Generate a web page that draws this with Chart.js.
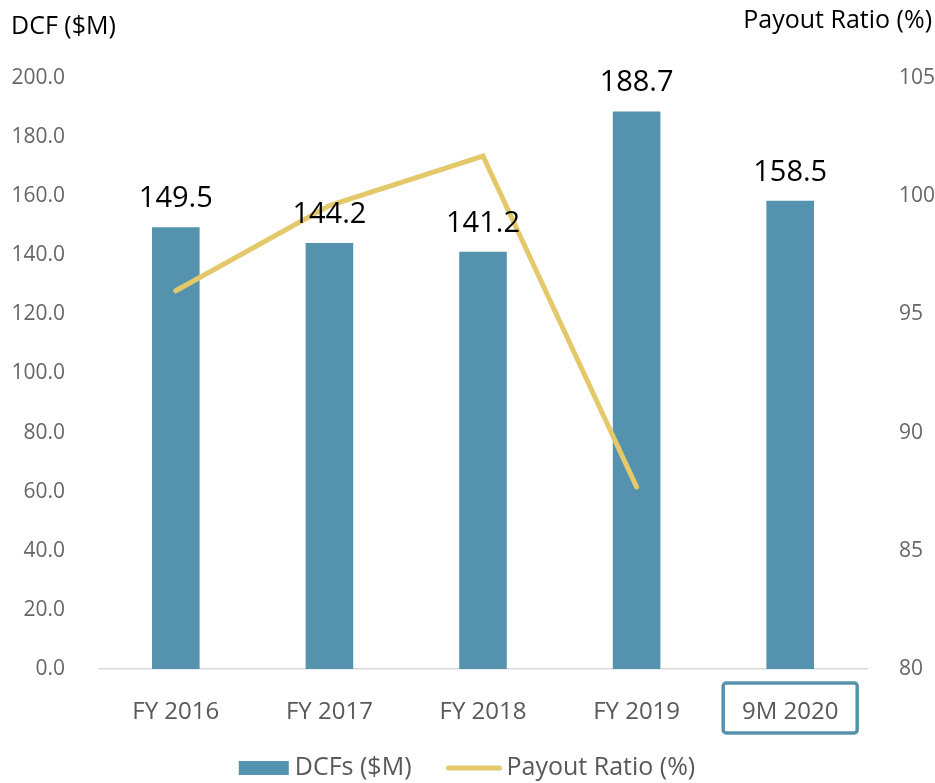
<!DOCTYPE html>
<html><head><meta charset="utf-8">
<script src="https://cdn.jsdelivr.net/npm/chart.js@4/dist/chart.umd.min.js"></script>
<style>html,body{margin:0;padding:0;background:#fff}#wrap{width:935px;height:783px}</style>
</head><body><div id="wrap"><canvas id="c" width="935" height="783"></canvas></div>
<script>
const categories = ['FY 2016', 'FY 2017', 'FY 2018', 'FY 2019', '9M 2020'];
const dcfValues = [149.5, 144.2, 141.2, 188.7, 158.5];
const payoutRatio = [96.0, 99.6, 101.7, 87.7, null];
const leftAxis = { min: 0, max: 200, step: 20, title: 'DCF ($M)' };
const rightAxis = { min: 80, max: 105, step: 5, title: 'Payout Ratio (%)' };
const seriesNames = ['DCFs ($M)', 'Payout Ratio (%)'];
const highlightedCategory = '9M 2020';

const BAR = '#5592AE';
const LINE = '#E4C96A';
const FONT = '"Open Sans", "Noto Sans", sans-serif';

const overlay = {
  id: 'overlay',
  afterDatasetsDraw(chart) {
    const ctx = chart.ctx;
    const idx = chart.data.datasets.findIndex(d => d.type === 'bar');
    const meta = chart.getDatasetMeta(idx);
    ctx.save();
    ctx.fillStyle = '#000';
    ctx.font = '500 29px ' + FONT;
    ctx.textAlign = 'center';
    ctx.textBaseline = 'alphabetic';
    meta.data.forEach((bar, i) => {
      ctx.fillText(dcfValues[i].toFixed(1), bar.x, bar.y - 20);
    });
    ctx.restore();
  },
  afterDraw(chart) {
    const ctx = chart.ctx;
    ctx.save();
    // axis titles
    ctx.fillStyle = '#000';
    ctx.font = '25px ' + FONT;
    ctx.textBaseline = 'middle';
    ctx.textAlign = 'left';
    ctx.fillText(leftAxis.title, 11, 27);
    ctx.textAlign = 'right';
    ctx.fillText(rightAxis.title, 932, 21);
    // highlight box
    const x = chart.scales.x;
    const idx = categories.indexOf(highlightedCategory);
    const cx = x.getPixelForValue(idx);
    const cy = 708;
    const w = 134, h = 50, r = 3;
    ctx.strokeStyle = BAR;
    ctx.lineWidth = 3.5;
    ctx.beginPath();
    ctx.roundRect(cx - w / 2, cy - h / 2, w, h, r);
    ctx.stroke();
    // legend
    ctx.font = '25px ' + FONT;
    ctx.textAlign = 'left';
    const t1 = ctx.measureText(seriesNames[0]).width;
    const t2 = ctx.measureText(seriesNames[1]).width;
    const total = 50 + 6 + t1 + 35 + 55 + 5 + t2;
    let lx = 467 - total / 2;
    const ly = 768;
    ctx.fillStyle = BAR;
    ctx.fillRect(lx, ly - 7, 50, 14);
    lx += 56;
    ctx.fillStyle = '#595959';
    ctx.fillText(seriesNames[0], lx, ly);
    lx += t1 + 35;
    ctx.strokeStyle = LINE;
    ctx.lineWidth = 5;
    ctx.lineCap = 'round';
    ctx.beginPath();
    ctx.moveTo(lx + 2, ly);
    ctx.lineTo(lx + 53, ly);
    ctx.stroke();
    lx += 60;
    ctx.fillText(seriesNames[1], lx, ly);
    ctx.restore();
  }
};

new Chart(document.getElementById('c'), {
  data: {
    labels: categories,
    datasets: [
      {
        type: 'line', label: seriesNames[1], data: payoutRatio, yAxisID: 'y1',
        borderColor: LINE, borderWidth: 5, pointRadius: 0, pointHoverRadius: 0,
        borderCapStyle: 'round', borderJoinStyle: 'miter', tension: 0, order: 0, spanGaps: false
      },
      {
        type: 'bar', label: seriesNames[0], data: dcfValues, yAxisID: 'y',
        backgroundColor: BAR, borderWidth: 0,
        categoryPercentage: 0.62, barPercentage: 0.5, order: 1
      }
    ]
  },
  options: {
    responsive: false,
    animation: false,
    layout: { padding: { top: 78, left: 0, right: 0, bottom: 30 } },
    plugins: {
      tooltip: { enabled: false },
      legend: { display: false }
    },
    scales: {
      x: {
        grid: { display: false },
        border: { display: true, color: '#d9d9d9', width: 1.5 },
        ticks: { font: { family: FONT, size: 24 }, color: '#595959', padding: 21 },
        afterFit(s) { s.height = 84; }
      },
      y: {
        position: 'left', min: leftAxis.min, max: leftAxis.max,
        grid: { display: false }, border: { display: false },
        ticks: { stepSize: leftAxis.step, font: { family: FONT, size: 21 }, color: '#666',
          padding: 26, callback: v => Number(v).toFixed(1) },
        afterFit(s) { s.width = 99; }
      },
      y1: {
        position: 'right', min: rightAxis.min, max: rightAxis.max,
        grid: { display: false }, border: { display: false },
        ticks: { stepSize: rightAxis.step, font: { family: FONT, size: 21 }, color: '#666', padding: 24 },
        afterFit(s) { s.width = 68; }
      }
    }
  },
  plugins: [overlay]
});
</script></body></html>
